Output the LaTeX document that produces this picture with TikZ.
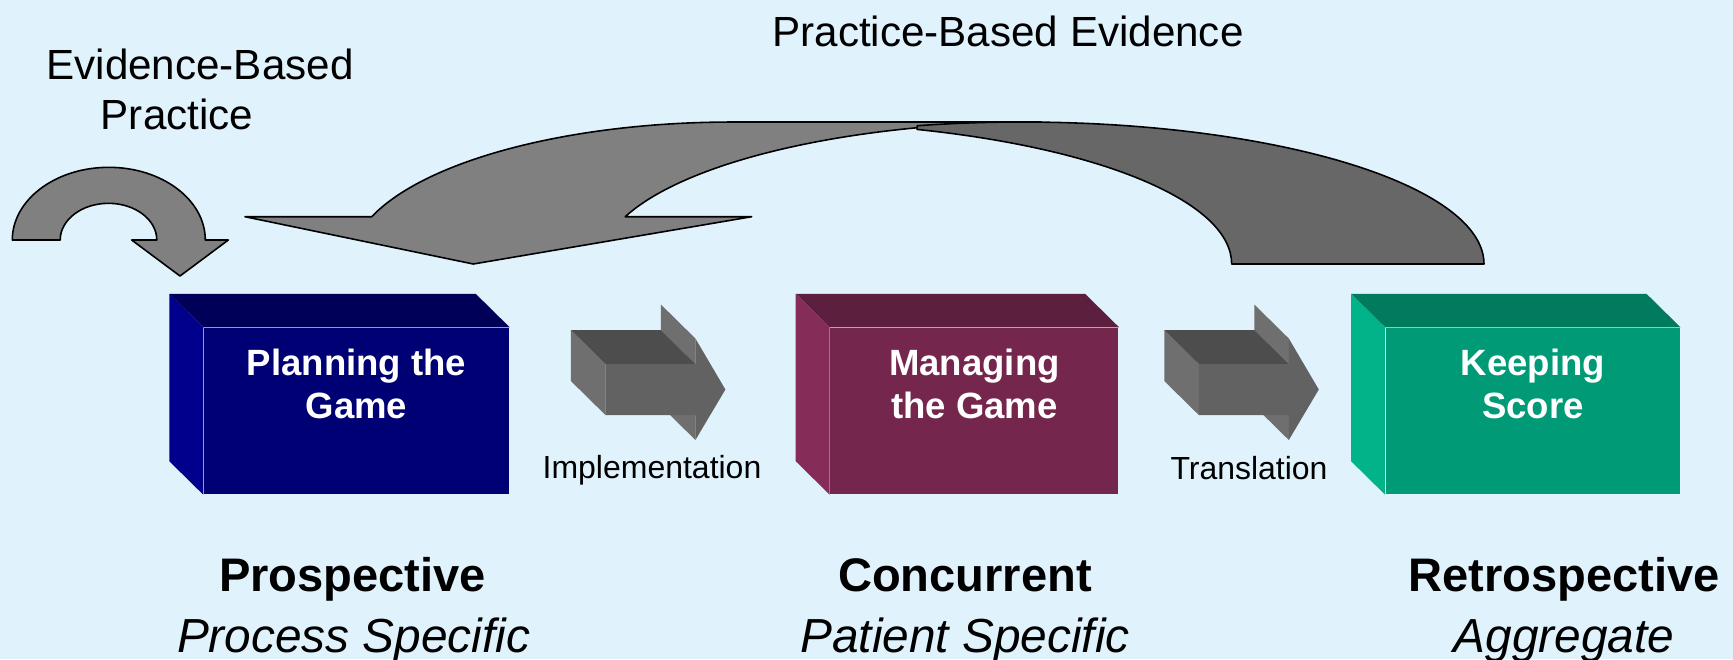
\documentclass[tikz,border=0pt]{standalone}
\usepackage{fontspec}
\setmainfont{Liberation Sans}
\usetikzlibrary{positioning,calc}

\definecolor{bgblue}{RGB}{224,242,252}
\definecolor{planfront}{RGB}{0,0,117}
\definecolor{plantop}{RGB}{0,0,88}
\definecolor{planside}{RGB}{0,0,140}
\definecolor{managefront}{RGB}{117,38,77}
\definecolor{managetop}{RGB}{93,31,62}
\definecolor{manageside}{RGB}{134,44,89}
\definecolor{scorefront}{RGB}{0,155,118}
\definecolor{scoretop}{RGB}{0,123,93}
\definecolor{scoreside}{RGB}{0,179,137}
\definecolor{arrowfront}{RGB}{98,98,98}
\definecolor{arrowtop}{RGB}{77,77,77}
\definecolor{arrowside}{RGB}{111,111,111}
\definecolor{arrowlight}{RGB}{128,128,128}
\definecolor{arrowdark}{RGB}{103,103,103}

% top and left faces of a block drawn behind its front node
\newcommand{\blockfaces}[3]{%
  \fill[#2] (#1.north west) -- ++(-34,-33.5) -- ($(#1.north east)+(-34,-33.5)$) -- (#1.north east) -- cycle;
  \fill[#3] (#1.north west) -- ++(-34,-33.5) -- ($(#1.south west)+(-34,-33.5)$) -- (#1.south west) -- cycle;
}

% 3d block arrow, origin = top left of the front shaft
\newcommand{\blockarrow}[1]{%
  \begin{scope}[shift={#1}]
    \fill[arrowside] (55.5,-59.5) -- (90,-25.5) -- (90,0) -- (55.5,-34) -- cycle;
    \fill[arrowside] (55.5,17) -- (90,51) -- (90,76) -- (55.5,42) -- cycle;
    \fill[arrowside] (0,0) -- (-34.5,-34) -- (-34.5,17) -- (0,51) -- cycle;
    \fill[arrowtop] (-34.5,-34) -- (55.5,-34) -- (90,0) -- (0,0) -- cycle;
    \fill[arrowfront] (0,0) -- (90,0) -- (90,-25.5) -- (120,25.5) -- (90,76) -- (90,51) -- (0,51) -- cycle;
  \end{scope}
}

\begin{document}
\begin{tikzpicture}[x=0.1mm,y=-0.1mm]
\tikzset{
  face/.style={inner sep=0pt, minimum height=16.6mm},
  boxlabel/.style={text=white, font=\bfseries\fontsize{10.4}{12.2}\selectfont, align=center, inner sep=0pt, anchor=north},
  steplabel/.style={font=\fontsize{9.1}{11}\selectfont, inner sep=0pt, anchor=base},
  toplabel/.style={font=\fontsize{12}{14}\selectfont, inner sep=0pt, anchor=base},
  phase/.style={font=\bfseries\fontsize{13.4}{16}\selectfont, inner sep=0pt, anchor=base},
  phasesub/.style={font=\itshape\fontsize{13.6}{16}\selectfont, inner sep=0pt, anchor=base},
  curvearrow/.style={draw=black, line width=0.45pt, line join=round, fill=arrowlight}}

\fill[bgblue] (0,0) rectangle (1733,659);
\useasboundingbox (0,0) rectangle (1733,659);

% The blocks
\node (plan) [face, fill=planfront, minimum width=30.5mm] at (356.5,411) {};
\node (manage) [face, fill=managefront, minimum width=28.8mm, right=32mm of plan] {};
\node (score) [face, fill=scorefront, minimum width=29.4mm, right=26.6mm of manage] {};

\blockfaces{plan}{plantop}{planside}
\blockfaces{manage}{managetop}{manageside}
\blockfaces{score}{scoretop}{scoreside}

\node (plantext) [boxlabel] at ([yshift=-2.14mm]plan.north) {Planning the\\Game};
\node (managetext) [boxlabel] at ([yshift=-2.14mm]manage.north) {Managing\\the Game};
\node (scoretext) [boxlabel] at ([yshift=-2.14mm]score.north) {Keeping\\Score};

% The block arrows
\blockarrow{($(plan.east)+(95.7,-47)$)}
\blockarrow{($(manage.east)+(79.7,-47)$)}

\node (impl) [steplabel] at (652,478) {Implementation};
\node (transl) [steplabel] at (1249,479) {Translation};

% The curved arrows
\draw[curvearrow] (12.3,240) arc[start angle=180, end angle=360, x radius=96.5, y radius=72.7]
  -- (228.3,240) -- (180,276) -- (131.7,240) -- (156.8,240)
  arc[start angle=360, end angle=180, x radius=48.3, y radius=36.7] -- cycle;

\draw[curvearrow] (245,216.7) -- (371.7,216.7)
  arc[start angle=199.46, end angle=270, x radius=383, y radius=142] -- (1041,122)
  arc[start angle=270, end angle=199.46, x radius=441, y radius=142]
  -- (751.7,216.7) -- (473.3,264) -- cycle;
\draw[curvearrow, fill=arrowdark] (1484,264)
  arc[start angle=360, end angle=256.9, x radius=462, y radius=142] -- (917,129.4)
  arc[start angle=288.6, end angle=360, x radius=462, y radius=142] -- cycle;

% The labels
\node (ebp) [toplabel] at (200,79) {Evidence-Based};
\node (ebp2) [toplabel] at (177,129) {Practice};
\node (pbe) [toplabel] at (1008,46) {Practice-Based Evidence};

\node (pros) [phase] at (352.5,591) {Prospective};
\node (prosdesc) [phasesub] at (353.7,652) {Process Specific};
\node (conc) [phase] at (965,591) {Concurrent};
\node (concdesc) [phasesub] at (965,652) {Patient Specific};
\node (retro) [phase] at (1564,591) {Retrospective};
\node (retrodesc) [phasesub] at (1564,652) {Aggregate};
\end{tikzpicture}
\end{document}
